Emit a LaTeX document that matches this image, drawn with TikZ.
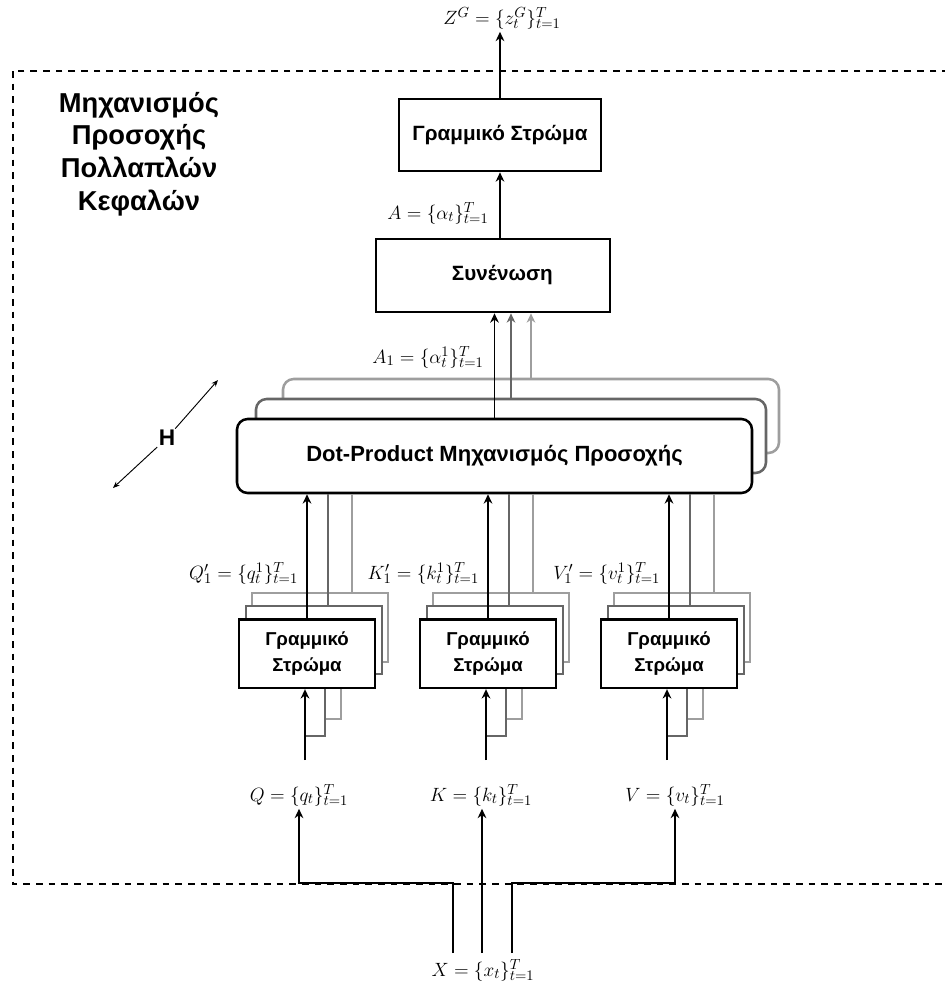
\documentclass[tikz,border=0pt]{standalone}
\usepackage{fontspec}
\setsansfont{Liberation Sans}
\usetikzlibrary{arrows.meta, positioning}

\definecolor{midgray}{gray}{0.40}
\definecolor{lightgray}{gray}{0.62}

\tikzset{
  blk/.style={draw, line width=2pt, fill=white, align=center,
    font=\sffamily\bfseries\fontsize{15.5}{18}\selectfont},
  dotbox/.style={draw, line width=1.9pt, fill=white, rounded corners=8pt,
    minimum height=55.5pt, font=\sffamily\bfseries\fontsize{16.5}{19}\selectfont},
  linbox/.style={draw, line width=2pt, fill=white, align=center,
    minimum width=102pt, minimum height=51.5pt,
    font=\sffamily\bfseries\fontsize{14}{19}\selectfont},
  mlab/.style={inner sep=2pt, font=\fontsize{15}{18}\selectfont},
  arr/.style={-{Stealth[length=7pt, width=6.5pt]}, line width=1.4pt},
  frame/.style={line width=1.2pt, dash pattern=on 5pt off 4.5pt}
}

\begin{document}
\begin{tikzpicture}[x=0.75pt, y=-0.75pt]
\useasboundingbox (0,0) rectangle (945,982);

% Outer frame
\draw[frame] (13,71) rectangle (960,884);

% Title
\node[align=center, font=\sffamily\bfseries\fontsize{20.5}{24.5}\selectfont] (ttl) at (139,154)
  {Μηχανισμός\\Προσοχής\\Πολλαπλών\\Κεφαλών};

% Output layer
\node[blk, minimum width=151.5pt, minimum height=54pt] (lintop) at (500,135) {Γραμμικό Στρώμα};
\node[mlab] (zlab) at (502,18) {$Z^G=\{z_t^G\}_{t=1}^T$};
\draw[arr] (lintop.north) -- (lintop.north |- zlab.south);

% Concatenation
\node[blk, minimum width=175.5pt, minimum height=54.75pt] (concat) at (493,275.5) {\hspace*{14pt}Συνένωση};
\draw[arr] (lintop.south |- concat.north) -- (lintop.south);
\node[mlab] (alab) at (438,213) {$A=\{\alpha_t\}_{t=1}^T$};

% Attention heads
\node[dotbox, draw=lightgray, minimum width=372pt] (dot3) at (531,416) {};
\node[dotbox, draw=midgray, minimum width=382.5pt] (dot2) at (511,436) {};
\node[dotbox, minimum width=386.25pt] (dot1) at (494.5,456) {Dot-Product Μηχανισμός Προσοχής};
\draw[arr] (dot1.north) -- (dot1.north |- concat.south);
\draw[arr, midgray, line width=1.1pt] (dot2.north) -- (dot2.north |- concat.south);
\draw[arr, lightgray, line width=1.1pt] (dot3.north) -- (dot3.north |- concat.south);
\node[mlab] (a1lab) at (428,357) {$A_1=\{\alpha_t^1\}_{t=1}^T$};

% Number of heads
\node[font=\sffamily\bfseries\fontsize{17}{20}\selectfont, inner sep=1pt] (hlab) at (167,438) {H};
\coordinate (hup) at (218,380);
\coordinate (hdown) at (113,488);
\draw[-{Stealth[length=5pt, width=4pt]}, line width=0.7pt] (hlab) -- (hup);
\draw[-{Stealth[length=5pt, width=4pt]}, line width=0.7pt] (hlab) -- (hdown);

% Linear projections of Q, K, V
\foreach \nm/\Nm/\xl/\xi in {q/Q/239/299, k/K/420/481, v/V/601/675} {
  \coordinate (in\nm) at (\xl+66, 760);
  \coordinate (dn2\nm) at (\xl+86, 736);
  \coordinate (dn3\nm) at (\xl+102, 719);
  \coordinate (up2\nm) at (\xl+89, 606);
  \coordinate (up3\nm) at (\xl+113, 593);
  % back head
  \node[linbox, draw=lightgray, line width=1.5pt] (l\nm3) at (\xl+81, 627.5) {};
  \draw[lightgray, line width=0.8pt] (dn2\nm |- dn3\nm) -- (dn3\nm) -- (dn3\nm |- l\nm3.south);
  \draw[lightgray, line width=1.1pt] (up3\nm) -- (up3\nm |- dot1.south);
  % middle head
  \node[linbox, draw=midgray, line width=1.6pt] (l\nm2) at (\xl+75, 640) {};
  \draw[midgray, line width=0.8pt] (in\nm |- dn2\nm) -- (dn2\nm) -- (dn2\nm |- l\nm2.south);
  \draw[midgray, line width=1.1pt] (up2\nm) -- (up2\nm |- dot1.south);
  % front head
  \node[linbox] (l\nm1) at (\xl+68, 653.5) {Γραμμικό\\Στρώμα};
  \draw[arr] (l\nm1.north) -- (l\nm1.north |- dot1.south);
  \node[mlab, anchor=east] (p\nm) at (\xl+62, 573) {$\Nm'_1=\{\nm_t^1\}_{t=1}^T$};
  % from inputs
  \node[mlab] (lab\nm) at (\xi, 795) {$\Nm=\{\nm_t\}_{t=1}^T$};
  \draw[arr] (in\nm) -- (in\nm |- l\nm1.south);
}

% Input
\node[mlab] (xlab) at (483,970) {$X=\{x_t\}_{t=1}^T$};
\coordinate (xq) at (453,953);
\coordinate (xk) at (482,953);
\coordinate (xv) at (512,953);
\draw[arr] (xq) -- ++(0,-70) -| (labq.south);
\draw[arr] (xk) -- (xk |- labk.south);
\draw[arr] (xv) -- ++(0,-70) -| (labv.south);
\end{tikzpicture}
\end{document}
